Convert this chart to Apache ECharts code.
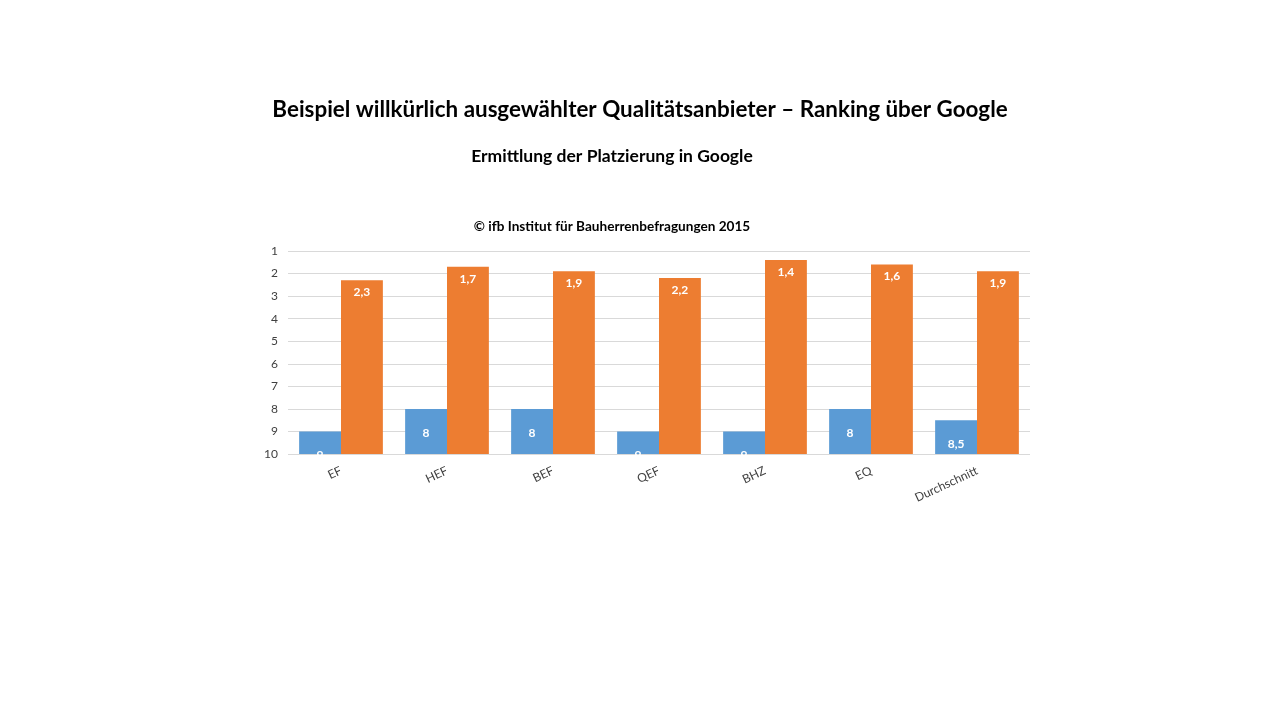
<!DOCTYPE html>
<html>
<head>
<meta charset="utf-8">
<script src="https://cdn.jsdelivr.net/npm/echarts@6/dist/echarts.min.js"></script>
<style>
	html, body { margin: 0; padding: 0; background: #fff; }
	#chart { width: 1280px; height: 720px; }
</style>
</head>
<body>
<div id="chart"></div>
<script>
// Daten aus der Grafik
const anbieter = ["EF", "HEF", "BEF", "QEF", "BHZ", "EQ", "Durchschnitt"];
const rangBlau = [9, 8, 8, 9, 9, 8, 8.5];
const rangOrange = [2.3, 1.7, 1.9, 2.2, 1.4, 1.6, 1.9];
const rangTicks = [1, 2, 3, 4, 5, 6, 7, 8, 9, 10];

const schrift = "Lato, 'Open Sans', sans-serif";

function komma(v) {
	return String(v).replace(".", ",");
}

const chart = echarts.init(document.getElementById("chart"));
chart.setOption({
	backgroundColor: "#ffffff",
	animation: false,
	title: [
		{
			text: "Beispiel willkürlich ausgewählter Qualitätsanbieter – Ranking über Google",
			left: 635,
			top: 94,
			textAlign: "center",
			textStyle: { fontFamily: schrift, fontSize: 22.4, fontWeight: "bold", color: "#000" },
		},
		{
			text: "Ermittlung der Platzierung in Google",
			left: 607,
			top: 142,
			textAlign: "center",
			textStyle: { fontFamily: schrift, fontSize: 17.5, fontWeight: "bold", color: "#000" },
		},
		{
			text: "© ifb Institut für Bauherrenbefragungen 2015",
			left: 607,
			top: 215,
			textAlign: "center",
			textStyle: { fontFamily: schrift, fontSize: 13.6, fontWeight: "bold", color: "#000" },
		},
	],
	grid: { left: 288, right: 250, top: 251, bottom: 266 },
	xAxis: {
		type: "category",
		data: anbieter,
		axisTick: { show: false },
		axisLine: { show: false },
		axisLabel: {
			rotate: 25,
			margin: 16,
			fontFamily: schrift,
			fontSize: 12,
			color: "#404040",
		},
	},
	yAxis: {
		type: "value",
		inverse: true,
		min: 1,
		max: 10,
		interval: 1,
		startValue: 10, // Balken wachsen von Platz 10 nach oben
		axisLine: { show: false },
		axisTick: { show: false },
		splitLine: { lineStyle: { color: "#d9d9d9", width: 1 } },
		axisLabel: {
			margin: 10,
			fontFamily: schrift,
			fontSize: 12,
			color: "#404040",
			formatter: (v) => (rangTicks.includes(v) ? String(v) : ""),
		},
	},
	series: [
		{
			name: "Platz A",
			type: "bar",
			data: rangBlau,
			barGap: "0%",
			barCategoryGap: "21%",
			itemStyle: { color: "#5b9bd5" },
			label: {
				show: true,
				position: "insideTop",
				distance: 18,
				color: "#fff",
				fontFamily: schrift,
				fontSize: 12,
				fontWeight: "bold",
				formatter: (p) => komma(p.value),
			},
		},
		{
			name: "Platz B",
			type: "bar",
			data: rangOrange,
			itemStyle: { color: "#ed7d31" },
			label: {
				show: true,
				position: "insideTop",
				distance: 6,
				color: "#fff",
				fontFamily: schrift,
				fontSize: 12,
				fontWeight: "bold",
				formatter: (p) => komma(p.value),
			},
		},
	],
});
</script>
</body>
</html>
